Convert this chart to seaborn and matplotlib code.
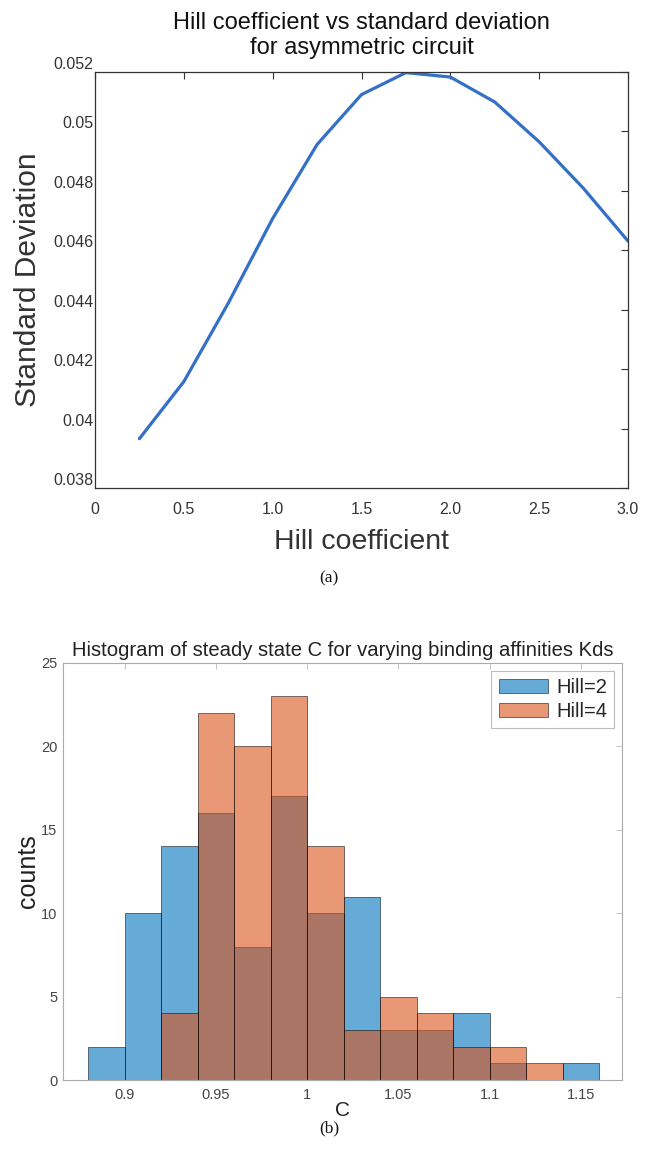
import numpy as np
import pandas as pd
import matplotlib
matplotlib.use("Agg")
import matplotlib.pyplot as plt
import seaborn as sns

# ---------------- data ----------------
hill_coeff = [0.25, 0.5, 0.75, 1.0, 1.25, 1.5, 1.75, 2.0, 2.25, 2.5, 2.75, 3.0]
std_dev = [0.03966, 0.04158, 0.04422, 0.04707, 0.04956, 0.05124,
           0.05198, 0.05183, 0.05099, 0.04965, 0.04808, 0.04631]

bin_edges = [0.88, 0.90, 0.92, 0.94, 0.96, 0.98, 1.00, 1.02, 1.04,
             1.06, 1.08, 1.10, 1.12, 1.14, 1.16]
counts_hill2 = [2, 10, 14, 16, 8, 17, 10, 11, 3, 3, 4, 1, 0, 1]
counts_hill4 = [0, 0, 4, 22, 20, 23, 14, 3, 5, 4, 2, 2, 1, 0]

top_xticks = [0, 0.5, 1.0, 1.5, 2.0, 2.5, 3.0]
top_xticklabels = ["0", "0.5", "1.0", "1.5", "2.0", "2.5", "3.0"]
top_yticks = [0.038, 0.040, 0.042, 0.044, 0.046, 0.048, 0.050, 0.052]
top_yticklabels = ["0.038", "0.04", "0.042", "0.044", "0.046", "0.048", "0.05", "0.052"]
bot_xticks = [0.9, 0.95, 1.0, 1.05, 1.1, 1.15]
bot_xticklabels = ["0.9", "0.95", "1", "1.05", "1.1", "1.15"]
bot_yticks = [0, 5, 10, 15, 20, 25]

sns.set_theme(style="white")
plt.rcParams['font.family'] = ['Liberation Sans', 'DejaVu Sans']

W, H = 658, 1154
fig = plt.figure(figsize=(W / 100, H / 100), dpi=100)


def box(l, t, r, b):
    return [l / W, 1 - b / H, (r - l) / W, (b - t) / H]


# ---------------- top panel ----------------
ax1 = fig.add_axes(box(95, 72, 628, 488))
df_line = pd.DataFrame({"hill": hill_coeff, "sd": std_dev})
sns.lineplot(data=df_line, x="hill", y="sd", ax=ax1, color="#3470c5", linewidth=2.3)
ax1.set_xlim(0, 3.0)
ax1.set_ylim(0.038, 0.052)
ax1.set_xticks(top_xticks)
ax1.set_xticklabels(top_xticklabels)
ax1.set_yticks(top_yticks)
ax1.set_yticklabels(top_yticklabels)
ax1.tick_params(axis="both", direction="in", length=5, width=0.8, color="#333333",
                labelsize=11.5, labelcolor="#333333", top=True, right=True)
ax1.tick_params(axis="y", pad=1)
ax1.tick_params(axis="x", pad=10)
for lab in ax1.get_yticklabels():
    lab.set_va("bottom")
for sp in ax1.spines.values():
    sp.set_color("#333333")
    sp.set_linewidth(0.9)
ax1.set_xlabel("Hill coefficient", fontsize=20.5, color="#333333", labelpad=9)
ax1.set_ylabel("Standard Deviation", fontsize=21.5, color="#333333", labelpad=8)
ax1.set_title("Hill coefficient vs standard deviation\nfor asymmetric circuit",
              fontsize=17, color="#111111", pad=13, linespacing=1.15)
fig.text(0.5, 1 - 578 / H, "(a)", ha="center", va="center",
         fontsize=12.5, family=["Liberation Serif", "DejaVu Serif"], color="#111111")

# ---------------- bottom panel ----------------
ax2 = fig.add_axes(box(63, 663, 622, 1080))
centers = [(bin_edges[i] + bin_edges[i + 1]) / 2 for i in range(len(bin_edges) - 1)]
blue = (0.0, 0.447, 0.741)
orange = (0.85, 0.325, 0.098)
sns.histplot(x=centers, weights=counts_hill2, bins=bin_edges, ax=ax2,
             color=blue, alpha=0.6, edgecolor=(0, 0, 0, 0.6), linewidth=0.6,
             label="Hill=2")
sns.histplot(x=centers, weights=counts_hill4, bins=bin_edges, ax=ax2,
             color=orange, alpha=0.6, edgecolor=(0, 0, 0, 0.6), linewidth=0.6,
             label="Hill=4")
ax2.set_xlim(0.8663, 1.1726)
ax2.set_ylim(0, 25)
ax2.set_xticks(bot_xticks)
ax2.set_xticklabels(bot_xticklabels)
ax2.set_yticks(bot_yticks)
ax2.tick_params(axis="both", direction="in", length=4, width=0.6, color="#bbbbbb",
                labelsize=10.5, labelcolor="#444444", top=True, right=True)
ax2.tick_params(axis="x", pad=6)
ax2.tick_params(axis="y", pad=4)
for sp in ax2.spines.values():
    sp.set_color("#aaaaaa")
    sp.set_linewidth(0.8)
ax2.set_xlabel("C", fontsize=15, color="#222222", labelpad=-1)
ax2.set_ylabel("counts", fontsize=18, color="#222222", labelpad=1)
ax2.set_title("Histogram of steady state C for varying binding affinities Kds",
              fontsize=14.6, color="#222222", pad=5)
leg = ax2.legend(loc="upper right", fontsize=14.5, frameon=True, fancybox=False,
                 handlelength=2.45, handleheight=0.65, borderpad=0.35,
                 labelspacing=0.25, handletextpad=0.4, borderaxespad=0.4)
leg.get_frame().set_edgecolor("#aaaaaa")
leg.get_frame().set_linewidth(0.8)
fig.text(0.5, 1 - 1128 / H, "(b)", ha="center", va="center",
         fontsize=12.5, family=["Liberation Serif", "DejaVu Serif"], color="#111111")

fig.savefig("out.png", dpi=100)
